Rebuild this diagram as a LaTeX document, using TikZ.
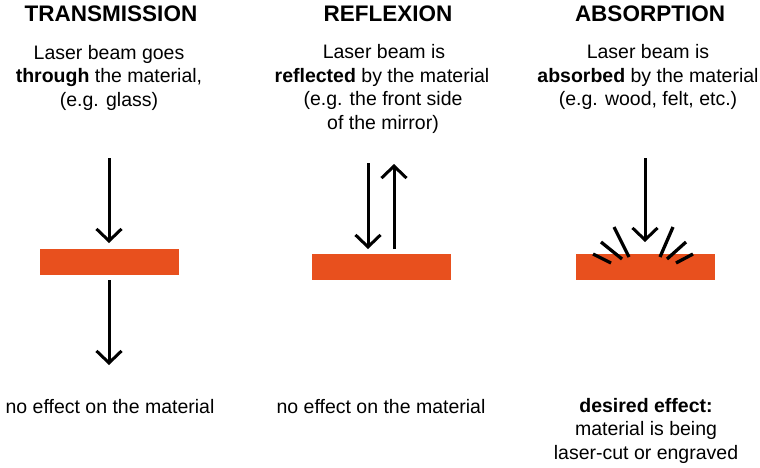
\documentclass[tikz,border=0pt]{standalone}
\usepackage{fontspec}
\setmainfont{Liberation Sans}
\usetikzlibrary{arrows.meta}
\definecolor{matorange}{HTML}{E8501E}
\begin{document}
\begin{tikzpicture}[x=1pt,y=-1pt,
  title/.style={font=\fontsize{22.5}{27}\selectfont\bfseries, anchor=base, inner sep=0pt},
  body/.style={font=\fontsize{19.5}{23.5}\selectfont, anchor=base, inner sep=0pt},
  material/.style={fill=matorange, draw=none, inner sep=0pt, minimum width=139pt, minimum height=26pt},
  beam/.style={line width=3pt, -{Straight Barb[length=12pt,width=25pt,line width=3pt]}},
  ray/.style={line width=3.3pt}]
\useasboundingbox (0,0) rectangle (760,467);

% ---- titles
\node[title] (t1) at (111,21) {TRANSMISSION};
\node[title] (t2) at (388,21) {REFLEXION};
\node[title] (t3) at (650,21) {ABSORPTION};

% ---- descriptions
\node[body] (d11) at (109,59) {Laser beam goes};
\node[body] (d12) at (109,82.5) {\textbf{through} the material,};
\node[body] (d13) at (109,106) {(e.g. glass)};

\node[body] (d21) at (384,58.5) {Laser beam is};
\node[body] (d22) at (382,82) {\textbf{reflected} by the material};
\node[body] (d23) at (383,105.5) {(e.g. the front side};
\node[body] (d24) at (383,129) {of the mirror)};

\node[body] (d31) at (648,58.5) {Laser beam is};
\node[body] (d32) at (648,82) {\textbf{absorbed} by the material};
\node[body] (d33) at (648,105.5) {(e.g. wood, felt, etc.)};

% ---- materials
\node[material] (m1) at (109.5,262) {};
\node[material] (m2) at (381.5,267) {};
\node[material] (m3) at (645.5,267) {};

% ---- beams
\coordinate (a1s) at (109,158);
\coordinate (a1e) at (109,243);
\coordinate (b1s) at (109,280);
\coordinate (b1e) at (109,365);
\draw[beam] (a1s) -- (a1e);
\draw[beam] (b1s) -- (b1e);

\coordinate (a2s) at (368,163);
\coordinate (a2e) at (368,249);
\coordinate (b2s) at (394,249);
\coordinate (b2e) at (394,164);
\draw[beam] (a2s) -- (a2e);
\draw[beam] (b2s) -- (b2e);

\coordinate (a3s) at (645,158);
\coordinate (a3e) at (645,242);
\draw[beam] (a3s) -- (a3e);

% ---- rays
\draw[ray] (614,227) -- (629,257);
\draw[ray] (601,242) -- (622,259);
\draw[ray] (593,254) -- (611,263);
\draw[ray] (673,227) -- (660,257);
\draw[ray] (686,242) -- (667,259);
\draw[ray] (693,254) -- (676,263);

% ---- effects
\node[body] (e1) at (110,413) {no effect on the material};
\node[body] (e2) at (381,413) {no effect on the material};
\node[body] (e31) at (646,412) {\textbf{desired effect:}};
\node[body] (e32) at (646,435.5) {material is being};
\node[body] (e33) at (646,459) {laser-cut or engraved};
\end{tikzpicture}
\end{document}
